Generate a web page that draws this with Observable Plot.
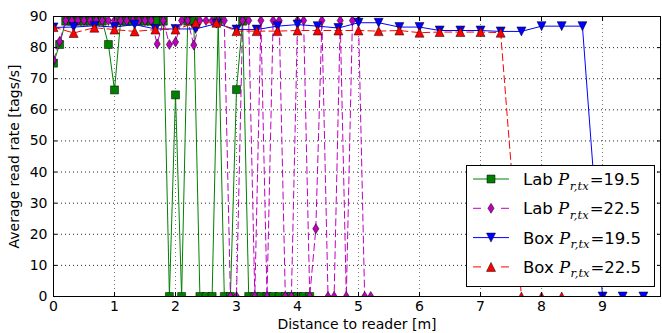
<!DOCTYPE html>
<html><head><meta charset="utf-8">
<script src="https://cdn.jsdelivr.net/npm/d3@7"></script>
<script src="https://cdn.jsdelivr.net/npm/@observablehq/plot@0.6"></script>
<style>
html,body{margin:0;padding:0;background:#fff;}
#chart svg{display:block;}
</style></head><body><div id="chart"></div>
<script>
// ---- data ----
const labDist195 = [0,0.1,0.2,0.3,0.4,0.5,0.6,0.7,0.8,0.9,1.0,1.1,1.2,1.3,1.4,1.5,1.6,1.7,1.8,1.9,2.0,2.1,2.2,2.3,2.4,2.5,2.6,2.7,2.8,2.9,3.0,3.1,3.2,3.3,3.4,3.5,3.6,3.7,3.8,3.9,4.0,4.1,4.2];
const labRate195 = [75,81,88.5,88.5,88.5,88.5,88.5,88.5,88.5,81,66.4,88.5,88.5,88.5,88.5,88.5,88.5,88.5,88.5,0,64.8,0,88.5,88.5,0,0,0,88.5,0,0,66.5,88.5,0,0,0,0,0,0,0,0,0,0,0];
const labDist225 = [0,0.1,0.2,0.3,0.4,0.5,0.6,0.7,0.8,0.9,1.0,1.1,1.2,1.3,1.4,1.5,1.6,1.7,1.8,1.9,2.0,2.1,2.2,2.3,2.4,2.5,2.6,2.7,2.8,2.9,3.0,3.1,3.2,3.3,3.4,3.5,3.6,3.7,3.8,3.9,4.0,4.1,4.2,4.3,4.4,4.5,4.6,4.7,4.8,4.9,5.0,5.1,5.2];
const labRate225 = [75.9,82,88.7,88.7,88.7,88.7,88.7,88.7,88.7,88.7,88.7,88.7,88.7,88.7,88.7,88.7,88.7,81.2,88.7,81,81.8,88.7,88.7,80.8,88.7,88.7,88.7,88.7,88.7,0,0,88.7,88.7,0,88.7,0,88.7,88.7,0,0,88.7,88.7,0,21.8,88.7,0,0,88.7,0,88.7,88.7,0,0];
const boxDist195 = [0,0.33,0.67,1,1.33,1.67,2,2.33,2.67,3,3.33,3.67,4,4.33,4.67,5,5.33,5.67,6,6.33,6.67,7,7.33,7.67,8,8.33,8.67,9,9.33,9.67];
const boxRate195 = [86.5,86.6,87,86.6,87.4,86,86,86,87.7,85.8,85.8,86.9,87.4,86.9,86.3,88,88,86.6,86.6,85.5,85.5,85.5,85.2,85.2,86.9,86.9,86.9,0,0,0];
const boxDist225 = [0,0.33,0.67,1,1.33,1.67,2,2.33,2.67,3,3.33,3.67,4,4.33,4.67,5,5.33,5.67,6,6.33,6.67,7,7.33,7.67,8,8.33];
const boxRate225 = [86.6,84.7,86.4,85.8,85.2,85.8,85.8,88,88,85.3,85.3,85.3,85.5,85.5,85.5,85.5,85.3,85.5,84.8,85,85,85,84.8,0,0,0];
const xTicks = [0,1,2,3,4,5,6,7,8,9];
const yTicks = [0,10,20,30,40,50,60,70,80,90];
const seriesPlace = ["Lab","Lab","Box","Box"];
const seriesPower = ["19.5","22.5","19.5","22.5"];
const seriesColor = ["#008000","#bf00bf","#0000ff","#ff0000"];

// ---- symbols (matplotlib-like) ----
const rad = s => Math.sqrt(s / Math.PI);
const symSquare = {draw(c, s){const r=rad(s);c.moveTo(-r,-r);c.lineTo(r,-r);c.lineTo(r,r);c.lineTo(-r,r);c.closePath();}};
const symDiamond = {draw(c, s){const r=rad(s);const w=r*0.62;c.moveTo(0,-r);c.lineTo(w,0);c.lineTo(0,r);c.lineTo(-w,0);c.closePath();}};
const symTriDown = {draw(c, s){const r=rad(s);c.moveTo(0,r);c.lineTo(-r,-r);c.lineTo(r,-r);c.closePath();}};
const symTriUp = {draw(c, s){const r=rad(s);c.moveTo(0,-r);c.lineTo(-r,r);c.lineTo(r,r);c.closePath();}};
const symbols = [symSquare, symDiamond, symTriDown, symTriUp];
const symR = [4, 5, 4.5, 4.5];
const dashes = [null, "7,4", null, "7,4"];

const table = (xs, ys) => xs.map((x, i) => ({x, y: ys[i]}));
const series = [
  table(labDist195, labRate195),
  table(labDist225, labRate225),
  table(boxDist195, boxRate195),
  table(boxDist225, boxRate225)
];

const marks = [
  Plot.ruleY(yTicks.filter(v => v > 0 && v < 90), {stroke: "#000", strokeOpacity: 0.85, strokeDasharray: "1,3"}),
  Plot.ruleX(xTicks.filter(v => v > 0), {stroke: "#000", strokeOpacity: 0.55, strokeDasharray: "1,3"})
];
series.forEach((d, i) => {
  marks.push(Plot.line(d, {x: "x", y: "y", stroke: seriesColor[i], strokeWidth: 1, strokeDasharray: dashes[i], clip: true}));
  marks.push(Plot.dot(d, {x: "x", y: "y", symbol: symbols[i], r: symR[i], fill: seriesColor[i], stroke: "#000", strokeWidth: 0.5, clip: true}));
});
marks.push(
  Plot.frame({stroke: "#000", strokeWidth: 1}),
  Plot.axisX(xTicks, {anchor: "bottom", tickSize: 0, tickPadding: 5, fontSize: 14, label: "Distance to reader [m]", labelAnchor: "center", labelOffset: 32, labelArrow: "none"}),
  Plot.axisX(xTicks, {anchor: "bottom", tickSize: -4, tickFormat: () => "", label: null}),
  Plot.axisX(xTicks, {anchor: "top", tickSize: -4, tickFormat: () => "", label: null}),
  Plot.axisY(yTicks, {anchor: "left", tickSize: 0, tickPadding: 6, fontSize: 14, label: "Average read rate [tags/s]", labelAnchor: "center", labelOffset: 44, labelArrow: "none"}),
  Plot.axisY(yTicks, {anchor: "left", tickSize: -4, tickFormat: () => "", label: null}),
  Plot.axisY(yTicks, {anchor: "right", tickSize: -4, tickFormat: () => "", label: null})
);

const plot = Plot.plot({
  width: 662, height: 333,
  marginLeft: 53, marginRight: 2, marginTop: 16, marginBottom: 37,
  x: {domain: [0, 9.95]},
  y: {domain: [0, 90]},
  style: {fontFamily: "DejaVu Sans", fontSize: "14px", background: "#fff", color: "#000"},
  marks
});
document.getElementById("chart").appendChild(plot);

// ---- legend ----
const svg = d3.select(plot);
const lg = svg.append("g").attr("text-anchor", "start");
lg.append("rect").attr("x", 466.5).attr("y", 165.5).attr("width", 188).attr("height", 121)
  .attr("fill", "#fff").attr("stroke", "#000").attr("stroke-width", 1);
seriesPlace.forEach((name, i) => {
  const cy = 179 + i * 29.3;
  lg.append("line").attr("x1", 473).attr("x2", 509).attr("y1", cy).attr("y2", cy)
    .attr("stroke", seriesColor[i]).attr("stroke-width", 1)
    .attr("stroke-dasharray", dashes[i] ? "8,20" : null);
  const p = d3.path();
  symbols[i].draw(p, Math.PI * symR[i] * symR[i]);
  lg.append("path").attr("d", p.toString()).attr("transform", `translate(491,${cy})`)
    .attr("fill", seriesColor[i]).attr("stroke", "#000").attr("stroke-width", 0.5);
  const t = lg.append("text").attr("x", 523).attr("y", cy + 6)
    .attr("font-family", "DejaVu Sans").attr("font-size", 16.5).attr("fill", "#000");
  t.append("tspan").text(name + " ");
  t.append("tspan").attr("font-family", "DejaVu Serif").attr("font-style", "italic").text("P");
  t.append("tspan").attr("font-family", "DejaVu Serif").attr("font-style", "italic").attr("font-size", 11.5).attr("dy", 4.5).attr("dx", 0.5).text("r,tx");
  t.append("tspan").attr("dy", -4.5).attr("dx", 1).text("=" + seriesPower[i]);
});
</script></body></html>
